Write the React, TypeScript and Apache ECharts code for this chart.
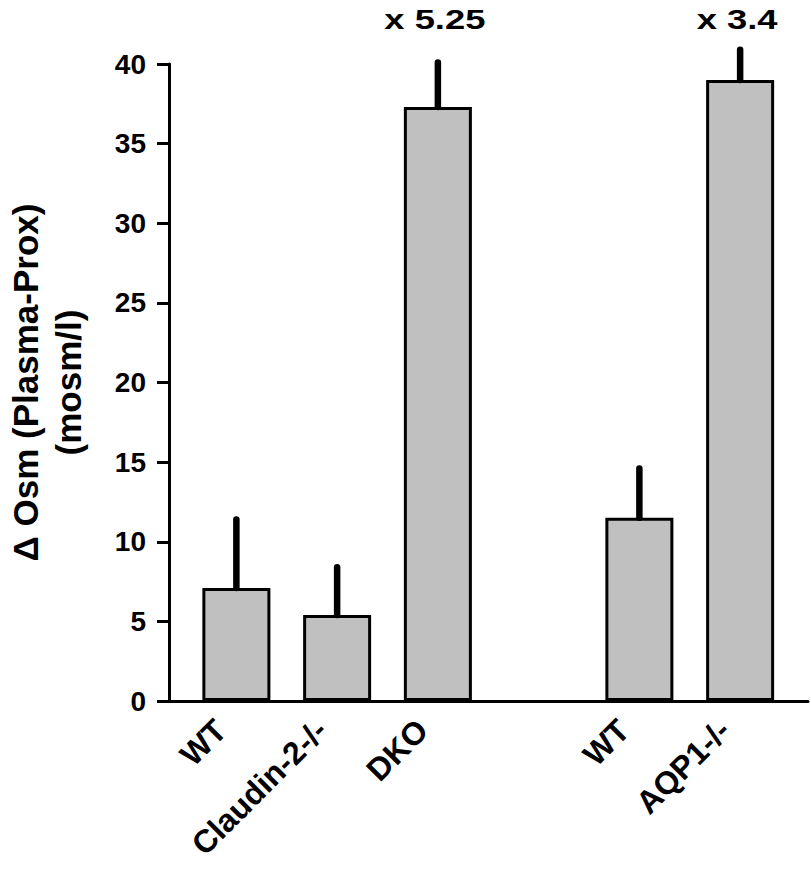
import React, { useEffect, useRef } from "react";
import * as echarts from "echarts";

const categories = ["WT", "Claudin-2-/-", "DKO", "", "WT", "AQP1-/-"];
const means: (number | null)[] = [7.1, 5.4, 37.3, null, 11.5, 39.0];
const upperErr: (number | null)[] = [11.4, 8.4, 40.1, null, 14.6, 40.9];
const foldLabels = ["", "", "x 5.25", "", "", "x 3.4"];
const yMin = 0;
const yMax = 40;
const yStep = 5;

const FONT = "'Liberation Sans', Arial, Helvetica, sans-serif";

export default function App() {
  const ref = useRef<HTMLDivElement>(null);
  useEffect(() => {
    if (!ref.current) return;
    const chart = echarts.init(ref.current, undefined, { renderer: "svg" });

    const errData = means
      .map((m, i) => (m == null || upperErr[i] == null ? null : [i, m, upperErr[i] as number]))
      .filter((d) => d !== null);
    const annData = foldLabels
      .map((t, i) => (t ? [i, upperErr[i] as number] : null))
      .filter((d) => d !== null);

    const option: any = {
      animation: false,
      backgroundColor: "#ffffff",
      grid: [
        { left: 169, right: 3, top: 64, bottom: 182, containLabel: false, outerBoundsMode: "none" },
        { left: 186, right: 20.5, top: 64, bottom: 182, containLabel: false, outerBoundsMode: "none" },
      ],
      xAxis: [
        {
          type: "value",
          gridIndex: 0,
          min: 0,
          max: 1,
          axisLine: { show: true, onZero: false, lineStyle: { color: "#000", width: 3 } },
          axisTick: { show: false },
          axisLabel: { show: false },
          splitLine: { show: false },
        },
        {
          type: "category",
          gridIndex: 1,
          data: categories,
          axisLine: { show: false },
          axisTick: { show: false },
          axisLabel: {
            rotate: 45,
            interval: 0,
            margin: 31,
            verticalAlign: "bottom",
            padding: [0, 6, 0, 0],
            color: "#000",
            fontSize: 32,
            fontWeight: "bold",
            fontFamily: FONT,
          },
          splitLine: { show: false },
        },
      ],
      yAxis: [
        {
          type: "value",
          gridIndex: 0,
          min: yMin,
          max: yMax,
          interval: yStep,
          name: "\u0394 Osm (Plasma-Prox)\n(mosm/l)",
          nameLocation: "middle",
          nameRotate: 90,
          nameGap: 79,
          nameTextStyle: {
            color: "#000",
            fontSize: 35,
            fontWeight: "bold",
            fontFamily: FONT,
            lineHeight: 43,
            align: "center",
          },
          axisLine: { show: true, lineStyle: { color: "#000", width: 3 } },
          axisTick: { show: true, length: 12, lineStyle: { color: "#000", width: 3 } },
          axisLabel: {
            margin: 23,
            color: "#000",
            fontSize: 28,
            fontWeight: "bold",
            fontFamily: FONT,
          },
          splitLine: { show: false },
        },
        {
          type: "value",
          gridIndex: 1,
          min: yMin,
          max: yMax,
          interval: yStep,
          show: false,
        },
      ],
      series: [
        {
          type: "bar",
          xAxisIndex: 1,
          yAxisIndex: 1,
          barWidth: 68,
          data: means.map((v) => (v == null ? "-" : v)),
          itemStyle: { color: "#c0c0c0", borderColor: "#000", borderWidth: 3 },
          z: 2,
        },
        {
          type: "custom",
          xAxisIndex: 1,
          yAxisIndex: 1,
          clip: false,
          z: 3,
          encode: { x: 0, y: [1, 2] },
          data: errData,
          renderItem: (params: any, api: any) => {
            const x = api.value(0);
            const p0 = api.coord([x, api.value(1)]);
            const p1 = api.coord([x, api.value(2)]);
            return {
              type: "line",
              shape: { x1: p0[0], y1: p0[1], x2: p1[0], y2: p1[1] },
              style: { stroke: "#000", lineWidth: 6.5, lineCap: "round" },
            };
          },
        },
        {
          type: "custom",
          xAxisIndex: 1,
          yAxisIndex: 1,
          clip: false,
          z: 4,
          encode: { x: 0, y: 1 },
          data: annData,
          renderItem: (params: any, api: any) => {
            const idx = api.value(0);
            const p = api.coord([idx, api.value(1)]);
            return {
              type: "text",
              x: p[0] - 3,
              y: params.coordSys.y - 44,
              scaleX: 1.3,
              style: {
                text: foldLabels[idx],
                fill: "#000",
                fontSize: 28,
                fontWeight: "bold",
                fontFamily: FONT,
                align: "center",
                verticalAlign: "middle",
              },
            };
          },
        },
      ],
    };
    chart.setOption(option);
    return () => chart.dispose();
  }, []);

  return (
    <div
      ref={ref}
      style={{ position: "fixed", left: 0, top: 0, width: 811, height: 883, background: "#fff" }}
    />
  );
}
